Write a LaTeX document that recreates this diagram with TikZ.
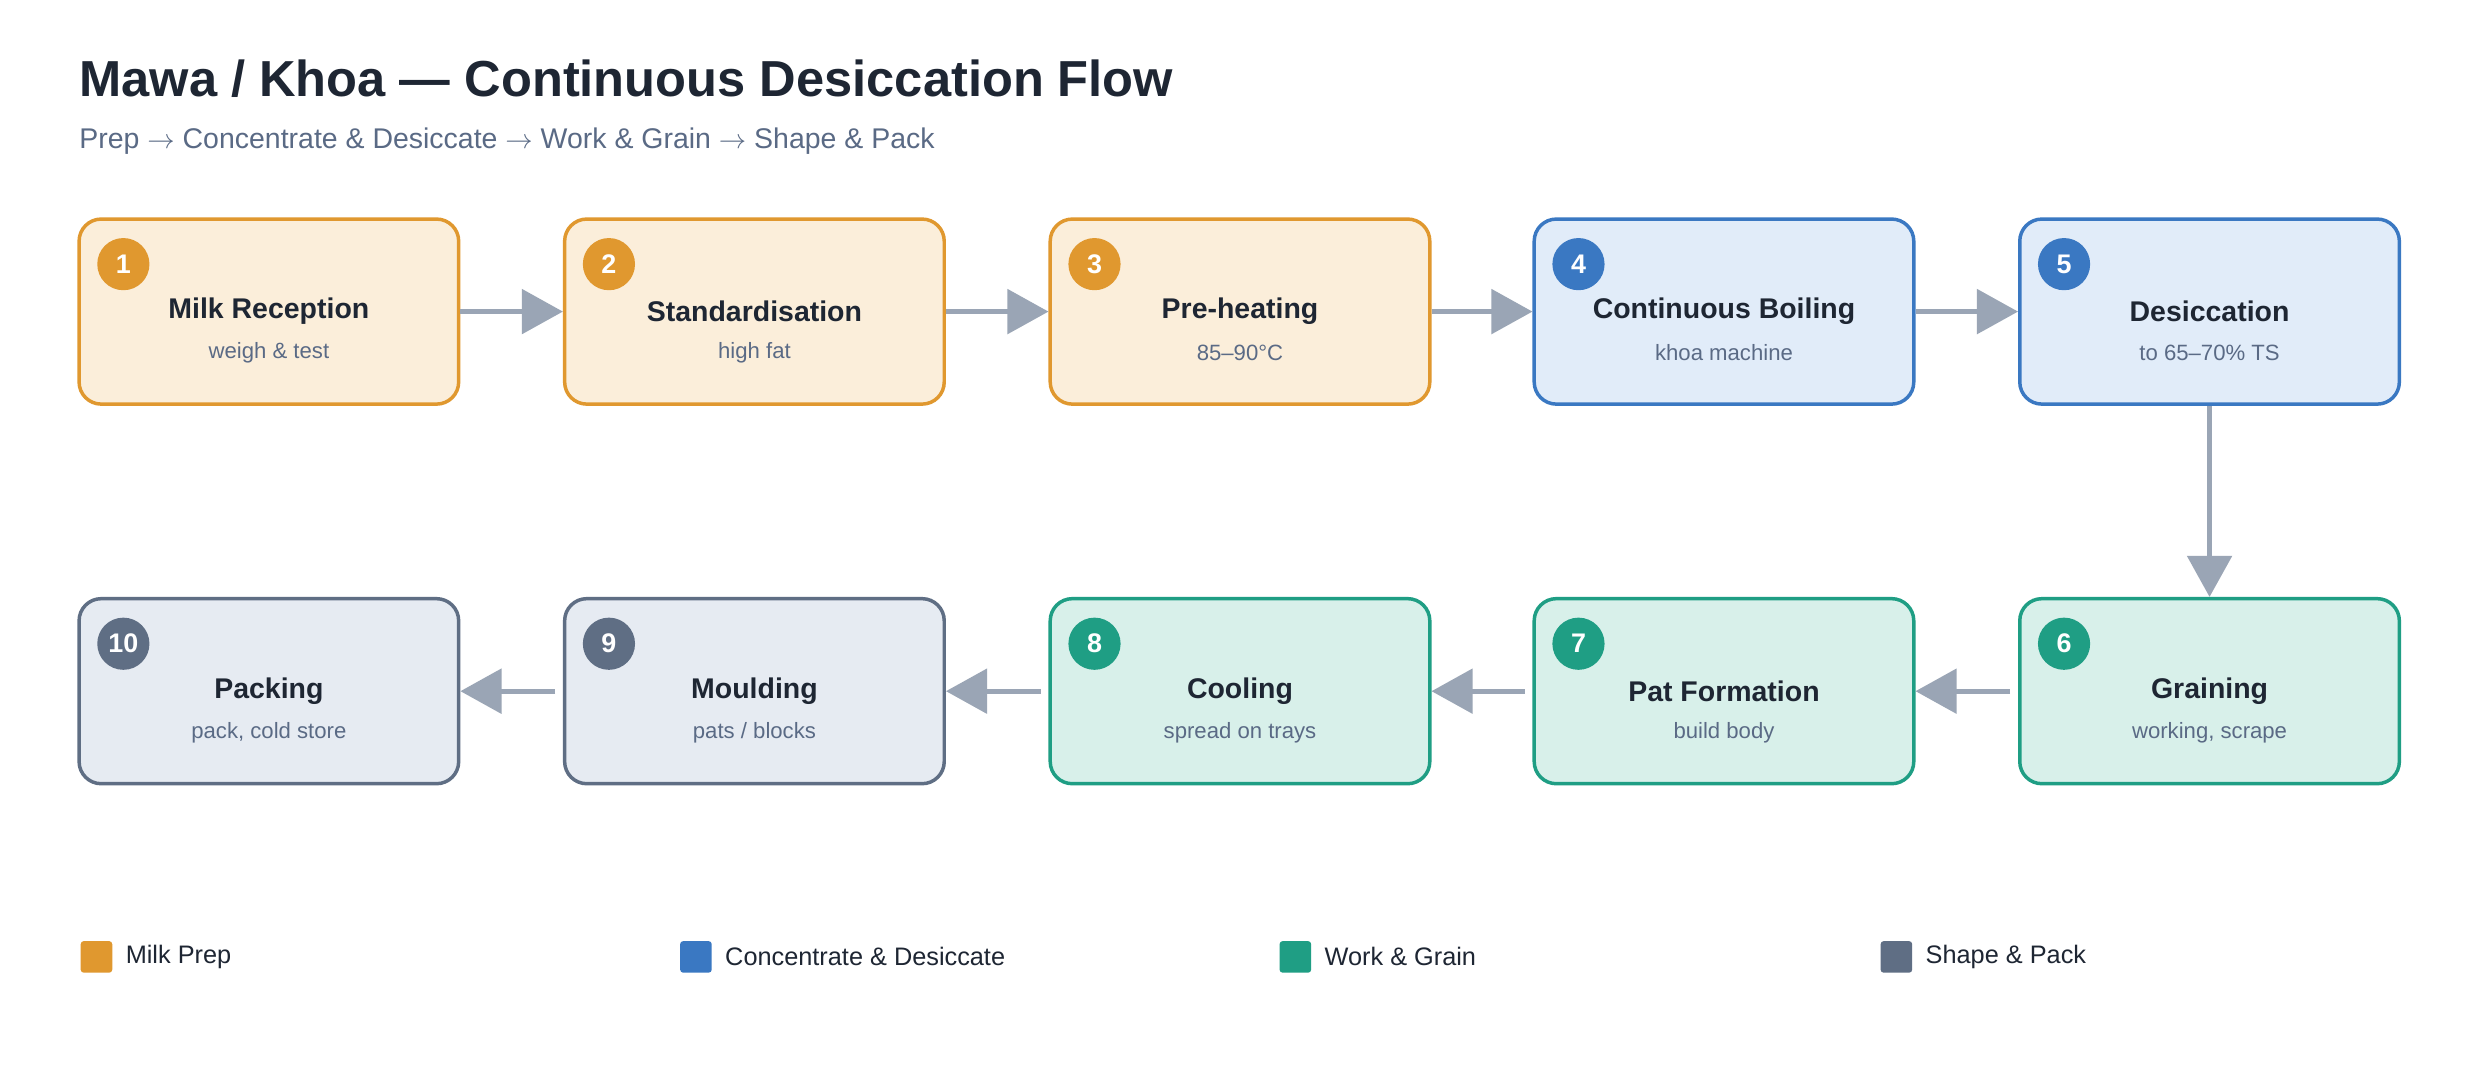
\documentclass[tikz,border=0pt]{standalone}
\usepackage{fontspec}
\setmainfont{Liberation Sans}
\usetikzlibrary{arrows.meta}
\definecolor{oB}{HTML}{E0982F}\definecolor{oF}{HTML}{FBEEDA}
\definecolor{bB}{HTML}{3A78C2}\definecolor{bF}{HTML}{E1ECF9}
\definecolor{gB}{HTML}{1F9E84}\definecolor{gF}{HTML}{D8F0EA}
\definecolor{sB}{HTML}{5F6E84}\definecolor{sF}{HTML}{E6EBF2}
\definecolor{ttl}{HTML}{1E2633}\definecolor{sub}{HTML}{5A6A85}
\definecolor{arr}{HTML}{9AA5B5}
\tikzset{
 stepbox/.style={draw=#1B,fill=#1F,line width=2.2pt,rounded corners=14pt,minimum width=240pt,minimum height=117pt,inner sep=0pt},
 badge/.style={circle,fill=#1B,minimum size=33pt,inner sep=0pt,text=white,font=\bfseries\fontsize{17}{20}\selectfont},
 flow/.style={draw=arr,line width=3pt,-{Triangle[length=26pt,width=28pt]}},
 lsq/.style={fill=#1B,rounded corners=2pt,minimum size=20pt,inner sep=0pt},
 ltx/.style={anchor=west,text=ttl,font=\fontsize{16}{19}\selectfont}
}
\begin{document}
\begin{tikzpicture}[x=1pt,y=-1pt]
\useasboundingbox[fill=white] (0,0) rectangle (1568,683);
\node[anchor=base west,text=ttl,font=\bfseries\fontsize{32}{38}\selectfont,inner sep=0] (title) at (50,61) {Mawa / Khoa — Continuous Desiccation Flow};
\node[anchor=base west,text=sub,font=\fontsize{18}{22}\selectfont,inner sep=0] (subt) at (50,94) {Prep $\rightarrow$ Concentrate \& Desiccate $\rightarrow$ Work \& Grain $\rightarrow$ Shape \& Pack};
\def\boxx#1#2#3#4#5#6{%
 \node[stepbox=#4] (b#1) at (#2,#3) {};
 \node[badge=#4] (c#1) at (#2-92,#3-30) {#1};
 \node[text=ttl,font=\bfseries\fontsize{18}{22}\selectfont] (t#1) at (#2,#3) {#5};
 \node[text=sub,font=\fontsize{14}{17}\selectfont] (s#1) at (#2,#3+26) {#6};}
\boxx{1}{170}{197}{o}{Milk Reception}{weigh \& test}
\boxx{2}{477}{197}{o}{Standardisation}{high fat}
\boxx{3}{784}{197}{o}{Pre-heating}{85–90°C}
\boxx{4}{1090}{197}{b}{Continuous Boiling}{khoa machine}
\boxx{5}{1397}{197}{b}{Desiccation}{to 65–70\% TS}
\boxx{6}{1397}{437}{g}{Graining}{working, scrape}
\boxx{7}{1090}{437}{g}{Pat Formation}{build body}
\boxx{8}{784}{437}{g}{Cooling}{spread on trays}
\boxx{9}{477}{437}{s}{Moulding}{pats / blocks}
\boxx{10}{170}{437}{s}{Packing}{pack, cold store}
\draw[flow] (b1.east) -- (b2.west);
\draw[flow] (b2.east) -- (b3.west);
\draw[flow] (b3.east) -- (b4.west);
\draw[flow] (b4.east) -- (b5.west);
\draw[flow] (b5.south) -- (b6.north);
\draw[flow] ([xshift=-5pt]b6.west) -- (b7.east);
\draw[flow] ([xshift=-5pt]b7.west) -- (b8.east);
\draw[flow] ([xshift=-5pt]b8.west) -- (b9.east);
\draw[flow] ([xshift=-5pt]b9.west) -- (b10.east);
\node[lsq=o] (l1) at (61,605) {}; \node[ltx] (lt1) at (76,605) {Milk Prep};
\node[lsq=b] (l2) at (440,605) {}; \node[ltx] (lt2) at (455,605) {Concentrate \& Desiccate};
\node[lsq=g] (l3) at (819,605) {}; \node[ltx] (lt3) at (834,605) {Work \& Grain};
\node[lsq=s] (l4) at (1199,605) {}; \node[ltx] (lt4) at (1214,605) {Shape \& Pack};
\end{tikzpicture}
\end{document}
